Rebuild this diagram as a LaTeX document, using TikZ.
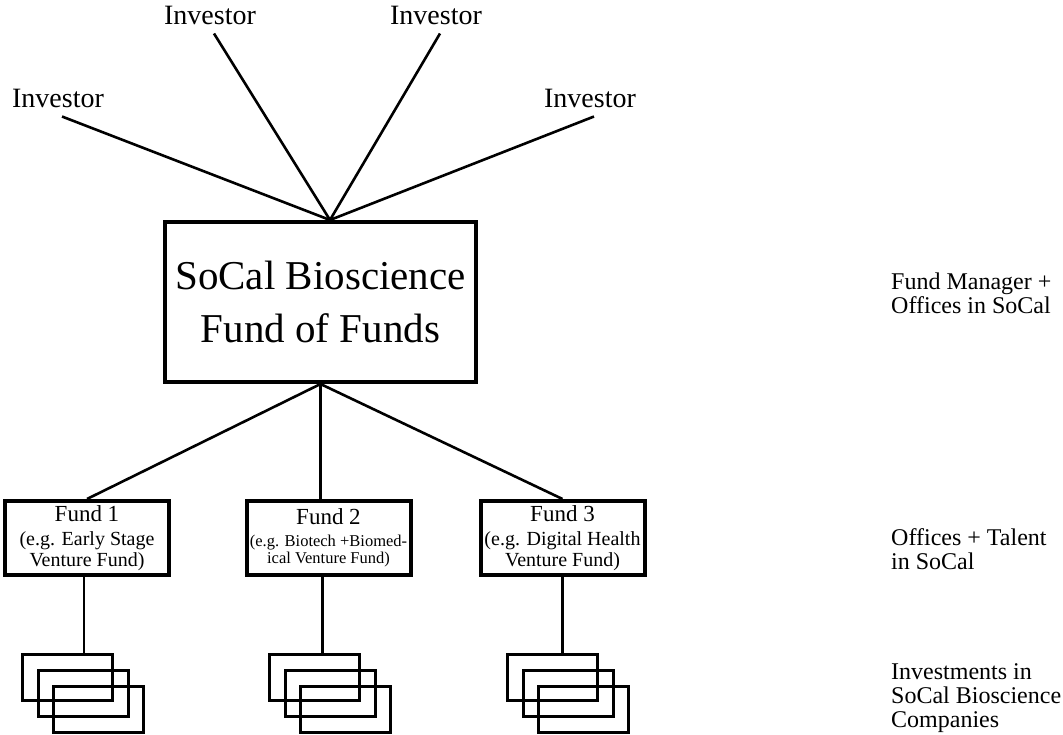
\documentclass[tikz,border=0pt]{standalone}
\usepackage{fontspec}
\setmainfont{Liberation Serif}
\usetikzlibrary{positioning, calc}

\begin{document}
\begin{tikzpicture}[
    x=1pt, y=-1pt,
    every node/.style={inner sep=0pt},
    link/.style={line width=2.6pt},
    mainbox/.style={draw, line width=4pt, minimum width=311pt, minimum height=160pt, align=center, font=\fontsize{41}{53}\selectfont},
    fundbox/.style={draw, line width=4pt, minimum width=164pt, minimum height=74pt, align=center, font=\fontsize{20}{21}\selectfont},
    stackbox/.style={draw, line width=3pt, minimum width=90pt, minimum height=46pt},
    investor/.style={font=\fontsize{28}{30}\selectfont},
    sidelabel/.style={anchor=west, align=left, font=\fontsize{24}{24}\selectfont}
]
\useasboundingbox (0,0) rectangle (1063,734);

% fund of funds
\node[mainbox] (hub) at (320.5,302) {SoCal Bioscience\\Fund of Funds};
\coordinate (meet) at ($(hub.north)+(9.5,0)$);

% investors
\node[investor] (inv1) at (58,98)  {Investor};
\node[investor] (inv2) at (210,15) {Investor};
\node[investor] (inv3) at (436,15) {Investor};
\node[investor] (inv4) at (590,98) {Investor};
\foreach \i in {1,...,4} {
    \draw[link] ([shift={(4,9)}]inv\i.south) -- (meet);
}

% funds
\node[fundbox] (fund1) at (87,538)    {{\fontsize{23}{24}\selectfont Fund 1}\\[3pt](e.g. Early Stage\\Venture Fund)};
\node[fundbox, font=\fontsize{16.5}{17.5}\selectfont] (fund2) at (328.5,538) {{\fontsize{23}{24}\selectfont Fund 2}\\[4pt](e.g. Biotech +Biomed-\\ical Venture Fund)};
\node[fundbox] (fund3) at (562.5,538) {{\fontsize{23}{24}\selectfont Fund 3}\\[3pt](e.g. Digital Health\\Venture Fund)};
\coordinate (drop1) at ($(fund1.south)+(-3,0)$);
\coordinate (drop2) at ($(fund2.south)+(-6,0)$);
\coordinate (drop3) at (fund3.south);
\draw[link] (hub.south) -- (fund1.north);
\draw[link] (hub.south) -- (hub.south |- fund2.north);
\draw[link] (hub.south) -- (fund3.north);

% portfolio companies
\foreach \i/\x in {1/67.5, 2/314.5, 3/552.5} {
    \foreach \k in {0,1,2} {
        \node[stackbox] (co\i\k) at (\x+15.5*\k, 677.5+16*\k) {};
    }
    \draw[link] (drop\i) -- (drop\i |- co\i0.north);
}

% levels
\node[sidelabel] (lvl1) at (891,293) {Fund Manager +\\Offices in SoCal};
\node[sidelabel] (lvl2) at (891,549) {Offices + Talent\\in SoCal};
\node[sidelabel] (lvl3) at (891,698) {Investments in\\SoCal Bioscience\\Companies};

\end{tikzpicture}
\end{document}
